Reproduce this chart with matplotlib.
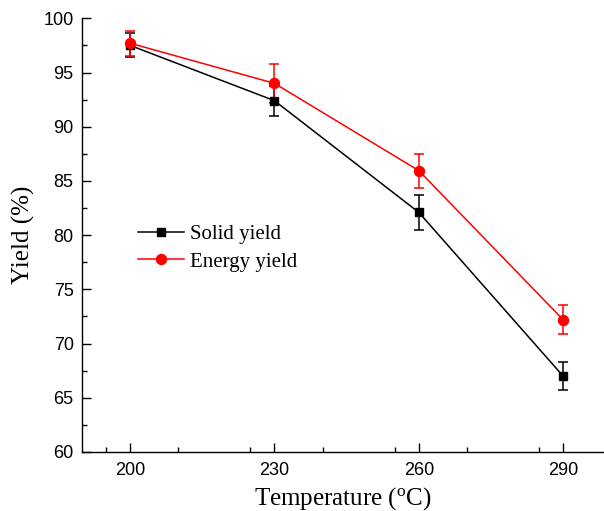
import matplotlib.pyplot as plt
from matplotlib.ticker import MultipleLocator

temperature = [200, 230, 260, 290]
solid_yield = [97.5, 92.4, 82.1, 67.0]
solid_err = [1.1, 1.38, 1.64, 1.3]
energy_yield = [97.7, 94.0, 85.95, 72.2]
energy_err = [1.14, 1.82, 1.57, 1.35]

fig = plt.figure(figsize=(6.04, 5.11), dpi=100)
ax = fig.add_axes([0.1358, 0.1155, 0.8642, 0.8487])

ax.errorbar(temperature, solid_yield, yerr=solid_err, color='black', marker='s',
            markersize=6, linewidth=1.1, capsize=3.5, capthick=1.1, elinewidth=1.1,
            label='Solid yield')
ax.errorbar(temperature, energy_yield, yerr=energy_err, color='red', marker='o',
            markersize=7.2, linewidth=1.1, capsize=3.5, capthick=1.1, elinewidth=1.1,
            label='Energy yield')

ax.set_xlim(190, 298.5)
ax.set_ylim(60, 100)
ax.set_xticks(temperature)
ax.xaxis.set_minor_locator(MultipleLocator(15))
ax.yaxis.set_major_locator(MultipleLocator(5))
ax.yaxis.set_minor_locator(MultipleLocator(2.5))
ax.tick_params(which='major', direction='in', length=6.7, width=1, labelsize=13)
ax.tick_params(axis='x', which='major', pad=7)
ax.tick_params(axis='y', which='major', pad=6)
ax.tick_params(which='minor', direction='in', length=3.6, width=1)
for lab in ax.get_xticklabels() + ax.get_yticklabels():
    lab.set_family('Liberation Sans')

ax.spines['top'].set_visible(False)
ax.spines['right'].set_visible(False)
ax.spines['left'].set_linewidth(1)
ax.spines['bottom'].set_linewidth(1)

ax.set_xlabel('Temperature ($\\mathregular{^{o}}$C)', family='Liberation Serif', fontsize=18, labelpad=5)
ax.set_ylabel('Yield (%)', family='Liberation Serif', fontsize=18, labelpad=6)

handles, labels = ax.get_legend_handles_labels()
handles = [h[0] for h in handles]
ax.legend(handles, labels, loc='center left', bbox_to_anchor=(0.092, 0.470), frameon=False,
          prop={'family': 'Liberation Serif', 'size': 15}, handlelength=2.2,
          handletextpad=0.3, labelspacing=0.37, borderaxespad=0)

fig.savefig('out.png', dpi=100)
